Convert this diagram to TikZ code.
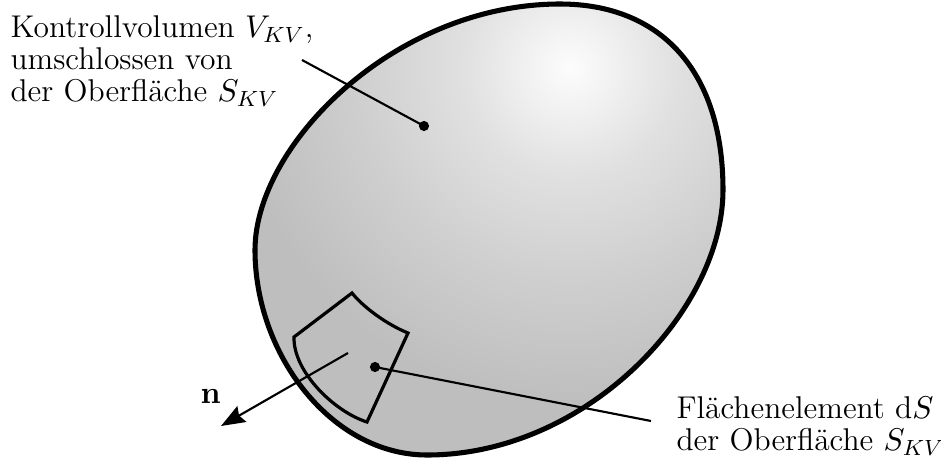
\RequirePackage{fix-cm}
\documentclass[tikz,border=0pt]{standalone}
\usetikzlibrary{arrows.meta}
\pgfdeclareradialshading{blobshade}{\pgfpointorigin}{color(0bp)=(black!1); color(40bp)=(black!12); color(80bp)=(black!19); color(125bp)=(black!25.5); color(260bp)=(black!25.5)}
\begin{document}
\begin{tikzpicture}[x=0.375pt,y=-0.375pt,
  lbl/.style={inner sep=0pt, align=left, font=\fontsize{11.8}{12}\selectfont},
  dot/.style={circle, fill=black, inner sep=0pt, minimum size=3.8pt},
  leader/.style={line width=0.8pt},
  outline/.style={line width=1.9pt},
  patchline/.style={line width=1.2pt, line join=miter},
  normalvec/.style={line width=0.8pt, -{Stealth[length=9pt,width=6.8pt,inset=1.2pt]}}]
\useasboundingbox (0,0) rectangle (941,461);
\def\blob{(560,4) .. controls (660,4) and (723,70) .. (723,190)
  .. controls (723,310) and (587,455) .. (427,455)
  .. controls (332,455) and (255,355) .. (255,250)
  .. controls (255,145) and (395,4) .. (560,4) -- cycle}
\begin{scope}
  \clip \blob;
  \fill[black!25.5] (0,0) rectangle (941,461);
  \begin{scope}[shift={(570,68)}]
    \pgftext{\pgfuseshading{blobshade}}
  \end{scope}
\end{scope}
\draw[outline] \blob;
% surface element
\draw[patchline] (352,293) .. controls (364,308) and (388,325) .. (408,333) -- (367,422) .. controls (335,412) and (293,372) .. (294,337) -- cycle;
% dots
\node[dot] (dv) at (424,126) {};
\node[dot] (ds) at (375,367) {};
\coordinate (lv) at (302,60);
\coordinate (ls) at (651,421);
\coordinate (nstart) at (348,353);
\coordinate (ntip) at (221,426);
\draw[leader] (lv) -- (dv.center);
\draw[leader] (ds.center) -- (ls);
\draw[normalvec] (nstart) -- (ntip);
% labels
\node[lbl, anchor=north west] (tv) at (10,15) {Kontrollvolumen $V_{KV}$,\\umschlossen von\\der Oberfläche $S_{KV}$};
\node[lbl, anchor=north west] (ts) at (676,396) {Flächenelement d$S$\\der Oberfläche $S_{KV}$};
\node[lbl, anchor=base west] (tn) at (200,403) {$\mathbf{n}$};
\end{tikzpicture}
\end{document}
